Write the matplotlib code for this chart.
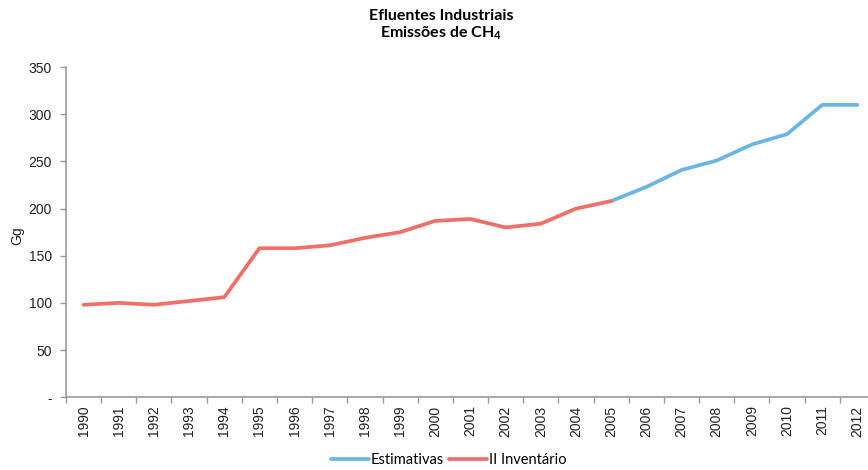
import matplotlib.pyplot as plt
import numpy as np

plt.rcParams['font.family'] = ['Liberation Sans', 'DejaVu Sans']
plt.rcParams['mathtext.fontset'] = 'custom'
plt.rcParams['mathtext.rm'] = 'Lato:bold'
plt.rcParams['mathtext.it'] = 'Lato:bold'

years = [str(y) for y in range(1990, 2013)]
inventario = [98, 100, 98, 102, 106, 158, 158, 161, 169, 175, 187, 189,
              180, 184, 200, 208]
estimativas = [208, 223, 241, 251, 268, 279, 310, 310]
est_start = 15  # 2005

blue = '#6cb6e3'
red = '#ef706a'
axis_grey = '#9a9a9a'

fig = plt.figure(figsize=(8.68, 4.70), dpi=100)
ax = fig.add_axes([0.076, 0.155, 0.932, 0.702])

x_inv = np.arange(len(inventario))
x_est = np.arange(est_start, est_start + len(estimativas))
ax.plot(x_est, estimativas, color=blue, lw=2.7, solid_capstyle='round',
        label='Estimativas', zorder=2)
ax.plot(x_inv, inventario, color=red, lw=2.7, solid_capstyle='round',
        label='II Inventário', zorder=3)

ax.set_xlim(-0.5, len(years) - 0.5)
ax.set_ylim(0, 350)

yt = np.arange(0, 351, 50)
ax.set_yticks(yt)
ax.set_yticklabels(['-'] + [str(v) for v in yt[1:]], fontsize=10, color='#222222')

ax.set_xticks(np.arange(len(years)))
ax.set_xticklabels(years, rotation=90, fontsize=10, color='#222222')
ax.set_xticks(np.arange(len(years) + 1) - 0.5, minor=True)
ax.tick_params(axis='x', which='major', length=0, pad=6)
ax.tick_params(axis='x', which='minor', length=4, color=axis_grey, width=1)
ax.tick_params(axis='y', length=4, color=axis_grey, width=1, pad=6)

for s in ['top', 'right']:
    ax.spines[s].set_visible(False)
for s in ['left', 'bottom']:
    ax.spines[s].set_color(axis_grey)
    ax.spines[s].set_linewidth(1.2)

ax.set_ylabel('Gg', fontsize=10, color='#222222')
ax.yaxis.set_label_coords(-0.051, 0.49)

fig.text(0.508, 0.98, 'Efluentes Industriais\nEmissões de CH$_4$',
         ha='center', va='top', fontsize=11.5, fontweight='bold',
         family='Lato', linespacing=1.1)

fig.legend(loc='lower center', bbox_to_anchor=(0.517, -0.022), ncol=2,
           frameon=False, prop={'family': 'Lato', 'size': 10.5},
           handlelength=2.6, handletextpad=0.1, columnspacing=0.4)

fig.savefig('out.png', dpi=100)
